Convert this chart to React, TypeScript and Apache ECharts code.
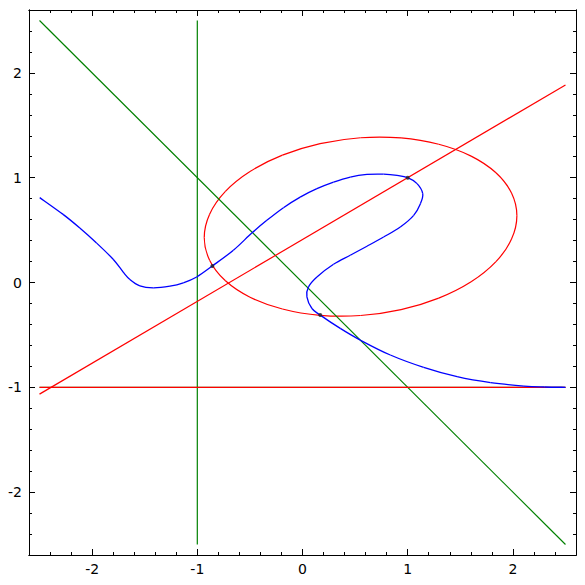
import React, { useEffect, useRef } from "react";
import * as echarts from "echarts";

// Tick values
const majorTicks = [-2, -1, 0, 1, 2];
const minorTicks = [-2.4, -2.2, -1.8, -1.6, -1.4, -1.2, -0.8, -0.6, -0.4, -0.2, 0.2, 0.4, 0.6, 0.8, 1.2, 1.4, 1.6, 1.8, 2.2, 2.4];

// Blue curve (in drawing order)
const blueCurve: number[][] = [
  [-2.498, 0.81], [-2.276, 0.65], [-2.117, 0.52], [-1.958, 0.377], [-1.8, 0.222],
  [-1.705, 0.10], [-1.641, 0.029], [-1.546, -0.032], [-1.419, -0.051], [-1.26, -0.035],
  [-1.133, -0.003], [-1.006, 0.053], [-0.857, 0.158], [-0.657, 0.308],
  [-0.482, 0.472], [-0.339, 0.593], [-0.181, 0.714], [-0.022, 0.815], [0.137, 0.895],
  [0.295, 0.958], [0.454, 1.006], [0.613, 1.031], [0.771, 1.034], [0.899, 1.022],
  [1.0, 1.0], [1.089, 0.943], [1.143, 0.848], [1.121, 0.752], [1.057, 0.641],
  [0.93, 0.53], [0.771, 0.434], [0.613, 0.346], [0.454, 0.26], [0.295, 0.174],
  [0.137, 0.053], [0.057, -0.042], [0.042, -0.137], [0.09, -0.248], [0.169, -0.311],
  [0.359, -0.438], [0.55, -0.55], [0.835, -0.692], [1.152, -0.81], [1.47, -0.899],
  [1.788, -0.956], [2.105, -0.988], [2.3, -0.997], [2.5, -1.0],
];

// Red ellipse (closed loop)
const redEllipse: number[][] = [
  [2.038, 0.637], [1.987, 0.853], [1.839, 1.047], [1.603, 1.206], [1.295, 1.319],
  [0.937, 1.379], [0.552, 1.381], [0.167, 1.325], [-0.191, 1.215], [-0.499, 1.059],
  [-0.735, 0.867], [-0.883, 0.652], [-0.934, 0.429], [-0.883, 0.213], [-0.735, 0.019],
  [-0.499, -0.14], [-0.191, -0.253], [0.167, -0.313], [0.552, -0.315], [0.937, -0.259],
  [1.295, -0.149], [1.603, 0.007], [1.839, 0.199], [1.987, 0.414],
];

// Straight lines
const redSlanted: number[][] = [[-2.5, -1.065], [2.5, 1.885]];
const redHorizontal: number[][] = [[-2.5, -1], [2.5, -1]];
const greenHorizontal: number[][] = [[-2.5, -1], [2.5, -1]];
const greenVertical: number[][] = [[-1, -2.5], [-1, 2.5]];
const greenDiagonal: number[][] = [[-2.5, 2.5], [2.5, -2.5]];

// Marked points
const markedPoints: number[][] = [[-0.857, 0.158], [0.169, -0.311], [1.0, 1.0]];

const FONT = "DejaVu Sans";

function mkAxis(position: string, ticks: number[], len: number, labels: boolean) {
  return {
    type: "value",
    min: -2.6,
    max: 2.6,
    position,
    gridIndex: 0,
    axisLine: { show: true, onZero: false, lineStyle: { color: "#000", width: 1 } },
    axisTick: { show: true, inside: true, length: len, customValues: ticks, lineStyle: { color: "#000", width: 1 } },
    axisLabel: labels
      ? { show: true, customValues: majorTicks, color: "#000", fontFamily: FONT, fontSize: 14, margin: 7 }
      : { show: false },
    splitLine: { show: false },
    minorTick: { show: false },
  };
}

function line(data: number[][], color: string, width: number, z = 2) {
  return {
    type: "line",
    data,
    showSymbol: false,
    lineStyle: { color, width },
    itemStyle: { color },
    z,
    silent: true,
  };
}

// Smooth curve through the given points (Catmull-Rom rendered as Bezier segments)
function curve(data: number[][], color: string, width: number, closed: boolean, z = 2) {
  return {
    type: "custom",
    data,
    encode: { x: 0, y: 1 },
    z,
    silent: true,
    renderItem: (params: any, api: any) => {
      if (params.dataIndex !== 0) return null;
      const pts: number[][] = data.map((p) => api.coord(p));
      const n = pts.length;
      const get = (i: number) => {
        if (closed) return pts[((i % n) + n) % n];
        return pts[Math.max(0, Math.min(n - 1, i))];
      };
      const children: any[] = [];
      const segs = closed ? n : n - 1;
      for (let i = 0; i < segs; i++) {
        const p0 = get(i - 1), p1 = get(i), p2 = get(i + 1), p3 = get(i + 2);
        children.push({
          type: "bezierCurve",
          shape: {
            x1: p1[0], y1: p1[1],
            x2: p2[0], y2: p2[1],
            cpx1: p1[0] + (p2[0] - p0[0]) / 6,
            cpy1: p1[1] + (p2[1] - p0[1]) / 6,
            cpx2: p2[0] - (p3[0] - p1[0]) / 6,
            cpy2: p2[1] - (p3[1] - p1[1]) / 6,
          },
          style: { stroke: color, lineWidth: width, fill: null },
        });
      }
      return { type: "group", children };
    },
  };
}

export default function App() {
  const ref = useRef<HTMLDivElement>(null);
  useEffect(() => {
    if (!ref.current) return;
    const chart = echarts.init(ref.current, null, { renderer: "svg" });
    chart.setOption({
      animation: false,
      backgroundColor: "#fff",
      grid: { left: 29, top: 10, right: 9, bottom: 30, containLabel: false },
      xAxis: [
        mkAxis("bottom", majorTicks, 6, true),
        mkAxis("bottom", minorTicks, 3, false),
        mkAxis("top", majorTicks, 6, false),
        mkAxis("top", minorTicks, 3, false),
      ],
      yAxis: [
        mkAxis("left", majorTicks, 6, true),
        mkAxis("left", minorTicks, 3, false),
        mkAxis("right", majorTicks, 6, false),
        mkAxis("right", minorTicks, 3, false),
      ],
      series: [
        line(greenVertical, "#008000", 1.2),
        line(greenDiagonal, "#008000", 1.2),
        line(greenHorizontal, "#008000", 1.0),
        line(redHorizontal, "#ff0000", 1.3, 3),
        line(redSlanted, "#ff0000", 1.2),
        curve(redEllipse, "#ff0000", 1.2, true),
        curve(blueCurve, "#0000ff", 1.3, false, 4),
        {
          type: "scatter",
          data: markedPoints,
          symbol: "circle",
          symbolSize: 4,
          itemStyle: { color: "#222" },
          z: 5,
          silent: true,
        },
      ],
    });
    return () => chart.dispose();
  }, []);
  return (
    <div
      ref={ref}
      style={{ position: "fixed", left: 0, top: 0, width: 585, height: 585, background: "#fff" }}
    />
  );
}
